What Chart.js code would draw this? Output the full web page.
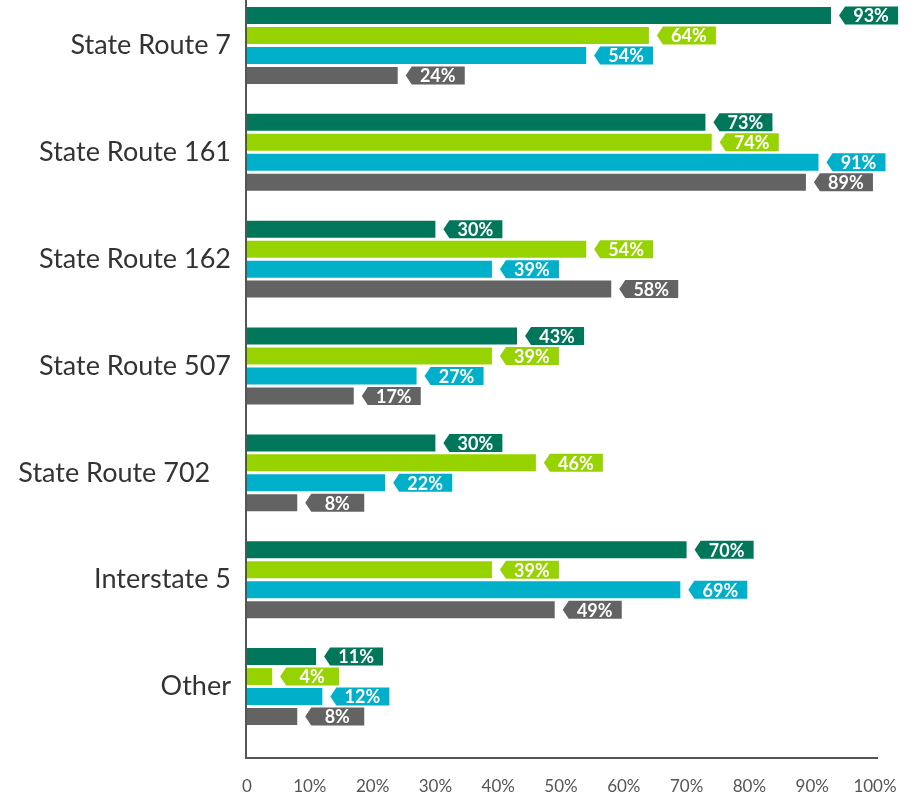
<!DOCTYPE html>
<html>
<head>
<meta charset="utf-8">
<script src="https://cdn.jsdelivr.net/npm/chart.js@4"></script>
<style>
  html, body { margin: 0; padding: 0; background: #fff; overflow: hidden; }
  #routes { position: absolute; left: 0; top: -8px; }
</style>
</head>
<body>
<canvas id="routes" width="913" height="811"></canvas>
<script>
const routes = ["State Route 7", "State Route 161", "State Route 162", "State Route 507", "State Route 702   ", "Interstate 5", "Other"];
const seriesA = [93, 73, 30, 43, 30, 70, 11];
const seriesB = [64, 74, 54, 39, 46, 39, 4];
const seriesC = [54, 91, 39, 27, 22, 69, 12];
const seriesD = [24, 89, 58, 17, 8, 49, 8];
const xTicks = [0, 10, 20, 30, 40, 50, 60, 70, 80, 90, 100];

const colors = ['#00775a', '#97d300', '#00afc9', '#636363'];

// arrow-shaped value tags to the right of each bar
const tagPlugin = {
    id: 'valueTags',
    afterDatasetsDraw(chart) {
        const { ctx } = chart;
        ctx.save();
        chart.data.datasets.forEach((ds, i) => {
            const meta = chart.getDatasetMeta(i);
            meta.data.forEach((bar, j) => {
                const x = bar.x;
                const y = bar.y;
                const h = 18;
                ctx.fillStyle = ds.backgroundColor;
                ctx.beginPath();
                ctx.moveTo(x + 8, y);
                ctx.lineTo(x + 14, y - h / 2);
                ctx.lineTo(x + 67, y - h / 2);
                ctx.lineTo(x + 67, y + h / 2);
                ctx.lineTo(x + 14, y + h / 2);
                ctx.closePath();
                ctx.fill();
                ctx.fillStyle = '#ffffff';
                ctx.font = 'bold 18px Lato';
                ctx.textAlign = 'center';
                ctx.textBaseline = 'middle';
                ctx.fillText(ds.data[j] + '%', x + 40, y + 1);
            });
        });
        ctx.restore();
    }
};

// axis lines run a little past the bars at the bottom
const axisLines = {
    id: 'axisLines',
    afterDraw(chart) {
        const { ctx, chartArea: { left, right, bottom } } = chart;
        ctx.save();
        ctx.strokeStyle = '#555555';
        ctx.lineWidth = 2;
        ctx.beginPath();
        ctx.moveTo(left - 1, 0);
        ctx.lineTo(left - 1, bottom + 18);
        ctx.lineTo(right + 3, bottom + 18);
        ctx.stroke();
        ctx.restore();
    }
};

new Chart(document.getElementById('routes'), {
    type: 'bar',
    data: {
        labels: routes,
        datasets: [
            { label: 'A', data: seriesA, backgroundColor: colors[0] },
            { label: 'B', data: seriesB, backgroundColor: colors[1] },
            { label: 'C', data: seriesC, backgroundColor: colors[2] },
            { label: 'D', data: seriesD, backgroundColor: colors[3] }
        ]
    },
    options: {
        indexAxis: 'y',
        responsive: false,
        animation: false,
        events: [],
        categoryPercentage: 0.748,
        barPercentage: 0.85,
        layout: { padding: { top: 0, right: 38, bottom: 0, left: 0 } },
        plugins: {
            legend: { display: false },
            tooltip: { enabled: false }
        },
        scales: {
            x: {
                min: 0,
                max: 100,
                grid: { display: false },
                border: { display: false },
                afterBuildTicks: (scale) => {
                    scale.ticks = xTicks.map(v => ({ value: v }));
                },
                afterFit: (scale) => {
                    scale.height = 63;
                    scale.paddingLeft = 0;
                    scale.paddingRight = 0;
                },
                ticks: {
                    padding: 28,
                    color: '#555555',
                    font: { family: 'Lato', size: 17 },
                    callback: (v) => v === 0 ? '0' : v + '%'
                }
            },
            y: {
                grid: { display: false },
                border: { display: false },
                afterFit: (scale) => {
                    scale.width = 247;
                    scale.paddingTop = 0;
                    scale.paddingBottom = 0;
                },
                ticks: {
                    padding: 8,
                    color: '#333333',
                    font: { family: 'Lato', size: 27 }
                }
            }
        }
    },
    plugins: [tagPlugin, axisLines]
});
</script>
</body>
</html>
